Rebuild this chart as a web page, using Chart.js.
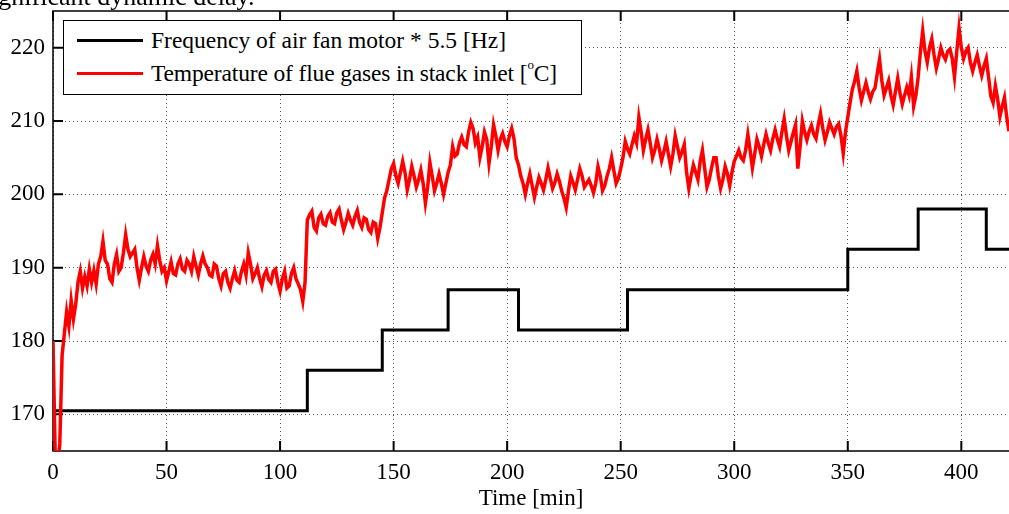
<!DOCTYPE html>
<html>
<head>
<meta charset="utf-8">
<script src="https://cdn.jsdelivr.net/npm/chart.js@4.4.0/dist/chart.umd.min.js"></script>
<style>
  body { margin: 0; background: #fff; overflow: hidden; }
  #wrap { position: relative; width: 1009px; height: 514px; overflow: hidden; font-family: "Liberation Serif", serif; }
  #note { position: absolute; left: -19px; top: -16px; font-size: 26px; line-height: 26px; white-space: nowrap; }
  #legend { position: absolute; left: 63px; top: 20px; width: 517px; height: 73px; border: 1.5px solid #000; background: #fff; }
  .row { position: absolute; left: 13px; height: 26px; display: flex; align-items: center; font-size: 23.5px; white-space: nowrap; }
  .row.t { letter-spacing: -0.15px; }
  .swatch { width: 66px; height: 3px; margin-right: 8px; }
  .deg { font-size: 13px; position: relative; top: -8px; }
</style>
</head>
<body>
<div id="wrap">
  <canvas id="chart" width="1009" height="514"></canvas>
  <div id="note">significant dynamic delay.</div>
  <div id="legend">
    <div class="row" style="top:6px"><span class="swatch" style="background:#000"></span>Frequency of air fan motor * 5.5 [Hz]</div>
    <div class="row t" style="top:39px"><span class="swatch" style="background:#f00"></span>Temperature of flue gases in stack inlet [<span class="deg">o</span>C]</div>
  </div>
</div>
<script>
const xTicks = [0, 50, 100, 150, 200, 250, 300, 350, 400];
const yTicks = [170, 180, 190, 200, 210, 220];

// air fan frequency * 5.5, step changes
const freqTime = [0, 112, 145, 174, 205, 253, 350, 381, 411, 421];
const freqValue = [170.5, 176, 181.5, 187, 181.5, 187, 192.5, 198, 192.5, 192.5];

// flue gas temperature, one reading per minute from t = 0
const tempValue = [
  180, 164, 163, 166, 178, 181, 184, 182, 185.5, 183, 185,
  188, 189.5, 187.2, 188.8, 187.5, 189.8, 188, 189.6, 187.8, 190.5,
  191.5, 193.6, 191, 190.5, 188.5, 188, 190.5, 191.8, 189.5, 190,
  192, 194.5, 192.5, 191.5, 192, 192.5, 190, 188.3, 190, 191.5,
  190.2, 189.5, 191, 191.8, 190.5, 193, 191, 189.5, 190, 188.2,
  189.5, 190.8, 189.2, 189, 190.5, 191.2, 189.8, 189.5, 191, 190.5,
  189.5, 191.5, 190.2, 189, 190.5, 191.6, 190.5, 190, 189, 188.8,
  190.5, 190.2, 188.5, 187.5, 189.2, 189.5, 188, 187.2, 188.5, 189.6,
  188.3, 188, 189.5, 190.5, 189, 192, 190.5, 188.5, 189.2, 190,
  188.5, 187.4, 189, 189.6, 188.4, 188, 189.5, 189.8, 188, 186.8,
  188.5, 189.5, 187.2, 187.5, 189.2, 190, 188.5, 187.8, 187, 185.4, 188,
  196.5, 197.2, 197.7, 195.5, 195, 196.8, 197.3, 196, 195.8,
  197, 197.5, 196.2, 196, 197.5, 198, 196.5, 195.2, 196.2, 197.4,
  196.5, 195.8, 197, 197.8, 196.2, 195.5, 196.8, 196.6, 195.2, 194.8,
  196.2, 196, 194, 195.5, 197.5, 199.5, 200.5, 202, 203.5, 204.2,
  202.5, 201.5, 203, 204.5, 203, 200.6, 202, 203.8, 202.5, 201,
  202, 203.3, 201.5, 198.8, 201, 204.3, 202.5, 200.5, 201.5, 202.8,
  201.5, 200, 201.5, 203, 204, 206.5, 205.2, 205.5, 207, 207.8,
  206.8, 206.5, 208.5, 209.8, 209, 207, 207.8, 205, 206.5, 208.5,
  207.5, 204.2, 206.5, 209.5, 208, 206, 207.5, 208.3, 207.2, 206.5,
  208, 209, 207.6, 205, 204, 202.5, 201.5, 200, 201.5, 202.8,
  201.2, 199.6, 201, 202.3, 201.5, 200.6, 202, 203.6, 202.2, 200.8,
  201.6, 202.8, 201.8, 200.5, 199.5, 198.2, 200.5, 202.5, 201.6, 200.6,
  202, 203.5, 202.5, 201, 201.5, 202, 201.2, 200.2, 201.5, 203.8,
  202.5, 200.5, 201.2, 202.5, 203.5, 205, 203.2, 201.5, 202.2, 203.5,
  205, 207.2, 206.2, 205.5, 206.8, 208, 207, 210.5, 208.5, 206,
  207.5, 208.8, 207, 205, 206, 207.5, 206.2, 204.6, 205.8, 207.2,
  205.5, 203.8, 205.5, 208, 206.5, 205, 205.8, 206.8, 203, 200.8,
  202.5, 204, 203, 202, 204.5, 206, 203.5, 201, 202, 203.6,
  205, 205, 202.5, 200.8, 202, 203.8, 202.8, 201.2, 203, 204.5,
  205.2, 206, 205, 204.6, 206, 208.2, 206, 203.6, 205.5, 207.5,
  206.5, 205.2, 206.8, 208.2, 207, 206, 207.6, 208.8, 207.5, 206.5,
  208.5, 210.3, 208, 206, 207.2, 208.4, 209.5, 203.5, 206.5, 210,
  208.5, 207.4, 208.6, 209.4, 208.2, 207.6, 209.5, 211, 209, 207.4,
  208.5, 209.8, 209, 208.2, 209.2, 209.6, 208, 205.6, 208.5, 210.5,
  212.5, 214.3, 215.4, 216.8, 214.5, 212.8, 214, 215.2, 214, 213,
  214, 214.5, 216.5, 218.4, 215.5, 213.5, 214.5, 215.5, 213.5, 212.2,
  214, 215.8, 213.8, 212.3, 213.5, 214.6, 213.5, 216, 212, 213.5,
  216, 219.5, 222.3, 219.5, 218, 220, 221.2, 219, 217.2, 218.5,
  220, 219, 218.4, 219.5, 219.8, 218.5, 216, 219.5, 222.7, 220,
  218.5, 219.5, 220, 218, 216.8, 218, 219, 217.5, 216.2, 217.5,
  218.5, 216, 213.4, 212.5, 214.8, 213, 210.6, 212, 213.2, 210.5, 208.6
];

const font = { family: "'Liberation Serif', serif", size: 23 };

const framePlugin = {
  id: "frame",
  beforeDatasetsDraw(chart) {
    const { ctx, chartArea: a, scales: { x, y } } = chart;
    ctx.save();
    ctx.strokeStyle = "#000";
    ctx.lineWidth = 1.5;
    ctx.beginPath();
    ctx.moveTo(a.right + 5, a.top);
    ctx.lineTo(a.left, a.top);
    ctx.lineTo(a.left, a.bottom);
    ctx.lineTo(a.right + 5, a.bottom);
    ctx.stroke();
    ctx.lineWidth = 2;
    ctx.beginPath();
    xTicks.forEach(v => {
      const px = x.getPixelForValue(v);
      ctx.moveTo(px, a.bottom); ctx.lineTo(px, a.bottom - 10);
      ctx.moveTo(px, a.top); ctx.lineTo(px, a.top + 10);
    });
    yTicks.forEach(v => {
      const py = y.getPixelForValue(v);
      ctx.moveTo(a.left, py); ctx.lineTo(a.left + 10, py);
    });
    ctx.stroke();
    ctx.restore();
  }
};

new Chart(document.getElementById("chart").getContext("2d"), {
  type: "line",
  data: {
    datasets: [
      {
        label: "Temperature of flue gases in stack inlet [oC]",
        data: tempValue.map((v, minute) => ({ x: minute, y: v })),
        borderColor: "#ff0000",
        borderWidth: 3.5,
        pointRadius: 0,
        tension: 0
      },
      {
        label: "Frequency of air fan motor * 5.5 [Hz]",
        data: freqTime.map((t, i) => ({ x: t, y: freqValue[i] })),
        borderColor: "#000000",
        borderWidth: 3,
        pointRadius: 0,
        stepped: "before"
      }
    ]
  },
  options: {
    responsive: false,
    animation: false,
    devicePixelRatio: 1,
    layout: { padding: { top: 11, right: 0, left: 0, bottom: 0 } },
    plugins: { legend: { display: false }, tooltip: { enabled: false } },
    scales: {
      x: {
        type: "linear",
        min: 0,
        max: 421,
        afterBuildTicks: s => { s.ticks = xTicks.map(v => ({ value: v })); },
        afterFit: s => { s.height = 63; s.paddingLeft = 0; s.paddingRight = 0; },
        grid: { color: "#555", lineWidth: 1, drawTicks: false },
        border: { display: false, dash: [1, 3] },
        ticks: { font, color: "#000", padding: 8, maxRotation: 0, autoSkip: false },
        title: { display: true, text: "Time [min]", font, color: "#000", padding: { top: 0, bottom: 1 } }
      },
      y: {
        min: 165,
        max: 225,
        afterBuildTicks: s => { s.ticks = yTicks.map(v => ({ value: v })); },
        afterFit: s => { s.width = 53; s.paddingTop = 0; s.paddingBottom = 0; },
        grid: { color: "#555", lineWidth: 1, drawTicks: false },
        border: { display: false, dash: [1, 3] },
        ticks: { font, color: "#000", padding: 8 }
      }
    }
  },
  plugins: [framePlugin]
});
</script>
</body>
</html>
